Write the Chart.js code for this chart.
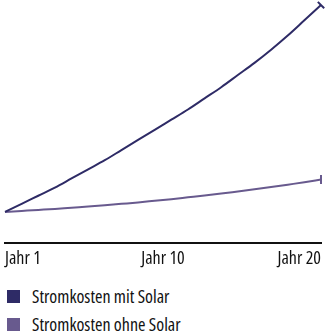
<!DOCTYPE html>
<html>
<head>
<meta charset="utf-8">
<script src="https://cdn.jsdelivr.net/npm/chart.js@4"></script>
<style>
    body { margin: 0; background: #fff; font-family: "Open Sans", sans-serif; font-stretch: condensed; font-weight: 500; }
    #wrap { position: relative; width: 326px; height: 336px; }
    #legend { position: absolute; left: 7px; top: 282px; }
    .item { display: flex; align-items: center; height: 28px; font-size: 18px; color: #111; }
    .box { width: 13px; height: 13px; margin-right: 12px; }
</style>
</head>
<body>
<div id="wrap">
    <canvas id="costChart" width="326" height="275"></canvas>
    <div id="legend"></div>
</div>

<script>
// ================= DATA =================
const years = [1, 2, 3, 4, 5, 6, 7, 8, 9, 10, 11, 12, 13, 14, 15, 16, 17, 18, 19, 20];
const mitSolar = [100, 108, 116, 124, 133, 142, 151, 161, 171, 181, 191, 201, 212, 223, 235, 247, 260, 274, 289, 304];
const ohneSolar = [100, 101, 102, 103, 104.2, 105.3, 106.6, 108, 109.4, 111, 112.6, 114.4, 116.2, 118.1, 120.2, 122.3, 124.5, 126.9, 129.3, 132];
const tickYears = [1, 10.5, 20];
const tickLabels = ["Jahr 1", "Jahr 10", "Jahr 20"];
const seriesNames = ["Stromkosten mit Solar", "Stromkosten ohne Solar"];
const seriesColors = ["#2e2b66", "#685a8e"];

// ================= CHART =================
function endCap(rot) {
    return {
        pointStyle: "line",
        pointRadius: ctx => ctx.dataIndex === years.length - 1 ? 4.5 : 0,
        pointHoverRadius: 0,
        pointBorderWidth: 2,
        pointRotation: rot
    };
}

const datasets = [mitSolar, ohneSolar].map((vals, i) => Object.assign({
    label: seriesNames[i],
    data: vals.map((v, k) => ({ x: years[k], y: v })),
    borderColor: seriesColors[i],
    backgroundColor: seriesColors[i],
    borderWidth: 2,
    cubicInterpolationMode: "monotone",
    clip: false
}, endCap(i === 0 ? 45 : 90)));

new Chart(document.getElementById("costChart"), {
    type: "line",
    data: { datasets: datasets },
    options: {
        responsive: false,
        animation: false,
        layout: { autoPadding: false, padding: { left: 0, right: 5, top: 0, bottom: 0 } },
        plugins: {
            legend: { display: false },
            tooltip: { enabled: false }
        },
        scales: {
            x: {
                type: "linear",
                min: 1,
                max: 20,
                afterBuildTicks: axis => { axis.ticks = tickYears.map(v => ({ value: v })); },
                grid: { display: false, drawTicks: false },
                border: { display: true, color: "#111", width: 2 },
                ticks: {
                    align: "inner",
                    padding: 5,
                    maxRotation: 0,
                    color: "#111",
                    font: { family: '"Open Sans"', weight: "500 condensed", size: 18 },
                    callback: (v, i) => tickLabels[i]
                }
            },
            y: {
                display: false,
                min: 69,
                max: 309
            }
        }
    }
});

// ================= LEGEND =================
const legend = document.getElementById("legend");
seriesNames.forEach((name, i) => {
    const row = document.createElement("div");
    row.className = "item";
    row.innerHTML = `<span class="box" style="background:${seriesColors[i]}"></span>${name}`;
    legend.appendChild(row);
});
</script>
</body>
</html>
